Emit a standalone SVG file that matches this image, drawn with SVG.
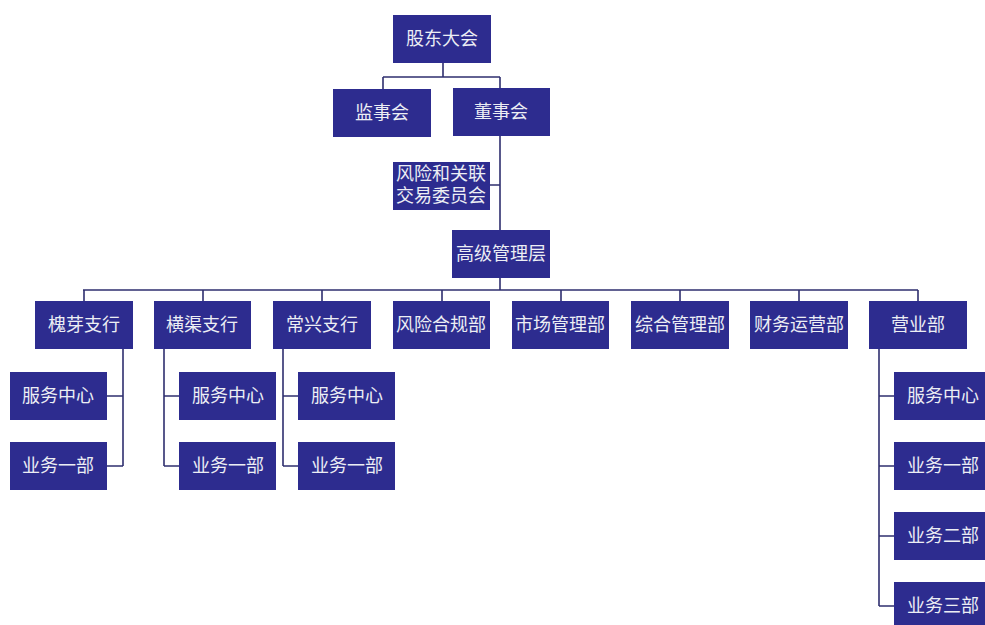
<svg xmlns="http://www.w3.org/2000/svg" width="985" height="625" viewBox="0 0 985 625">
<style>
.b{fill:#2d2c8f;}
.t{fill:#eceef4;font-family:"Liberation Sans","Noto Sans CJK SC",sans-serif;font-size:18px;text-anchor:middle;dominant-baseline:central;}
.c{fill:none;stroke:#2f2f6f;stroke-width:1.6;}
</style>
<rect width="985" height="625" fill="#ffffff"/>
<g id="connectors">
<path class="c" d="M443,63V77M383,77H500M383,77V89M500,77V88M500,136V290M490,185H500M83,290H918M84,290V301M203,290V301M322,290V301M442,290V301M561,290V301M680,290V301M799,290V301M918,290V301"/>
<path class="c" d="M123,349V466M107,396H123M107,466H123"/>
<path class="c" d="M164,349V466M164,396H179M164,466H179"/>
<path class="c" d="M283,349V466M283,396H298M283,466H298"/>
<path class="c" d="M879,349V606M879,396H894M879,466H894M879,536H894M879,606H894"/>
</g>
<g id="n1"><rect class="b" x="393" y="15" width="98" height="48"/><text class="t" x="442" y="39">股东大会</text></g>
<g id="n2"><rect class="b" x="333" y="89" width="98" height="48"/><text class="t" x="382" y="113">监事会</text></g>
<g id="n3"><rect class="b" x="453" y="88" width="97" height="48"/><text class="t" x="501" y="112">董事会</text></g>
<g id="n4"><rect class="b" x="393" y="162" width="97" height="48"/><text class="t" x="441" y="174">风险和关联</text><text class="t" x="441" y="196">交易委员会</text></g>
<g id="n5"><rect class="b" x="452" y="230" width="98" height="48"/><text class="t" x="501" y="254">高级管理层</text></g>
<g id="n6"><rect class="b" x="35" y="301" width="98" height="48"/><text class="t" x="84" y="325">槐芽支行</text></g>
<g id="n7"><rect class="b" x="154" y="301" width="97" height="48"/><text class="t" x="202" y="325">横渠支行</text></g>
<g id="n8"><rect class="b" x="273" y="301" width="98" height="48"/><text class="t" x="322" y="325">常兴支行</text></g>
<g id="n9"><rect class="b" x="393" y="301" width="97" height="48"/><text class="t" x="441" y="325">风险合规部</text></g>
<g id="n10"><rect class="b" x="512" y="301" width="97" height="48"/><text class="t" x="560" y="325">市场管理部</text></g>
<g id="n11"><rect class="b" x="631" y="301" width="98" height="48"/><text class="t" x="680" y="325">综合管理部</text></g>
<g id="n12"><rect class="b" x="750" y="301" width="98" height="48"/><text class="t" x="799" y="325">财务运营部</text></g>
<g id="n13"><rect class="b" x="869" y="301" width="98" height="48"/><text class="t" x="918" y="325">营业部</text></g>
<g id="n14"><rect class="b" x="10" y="372" width="97" height="48"/><text class="t" x="58" y="396">服务中心</text></g>
<g id="n15"><rect class="b" x="10" y="442" width="97" height="48"/><text class="t" x="58" y="466">业务一部</text></g>
<g id="n16"><rect class="b" x="179" y="372" width="97" height="48"/><text class="t" x="228" y="396">服务中心</text></g>
<g id="n17"><rect class="b" x="179" y="442" width="97" height="48"/><text class="t" x="228" y="466">业务一部</text></g>
<g id="n18"><rect class="b" x="298" y="372" width="97" height="48"/><text class="t" x="347" y="396">服务中心</text></g>
<g id="n19"><rect class="b" x="298" y="442" width="97" height="48"/><text class="t" x="347" y="466">业务一部</text></g>
<g id="n20"><rect class="b" x="894" y="372" width="97" height="48"/><text class="t" x="943" y="396">服务中心</text></g>
<g id="n21"><rect class="b" x="894" y="442" width="97" height="48"/><text class="t" x="943" y="466">业务一部</text></g>
<g id="n22"><rect class="b" x="894" y="512" width="97" height="48"/><text class="t" x="943" y="536">业务二部</text></g>
<g id="n23"><rect class="b" x="894" y="582" width="97" height="48"/><text class="t" x="943" y="606">业务三部</text></g>
</svg>
